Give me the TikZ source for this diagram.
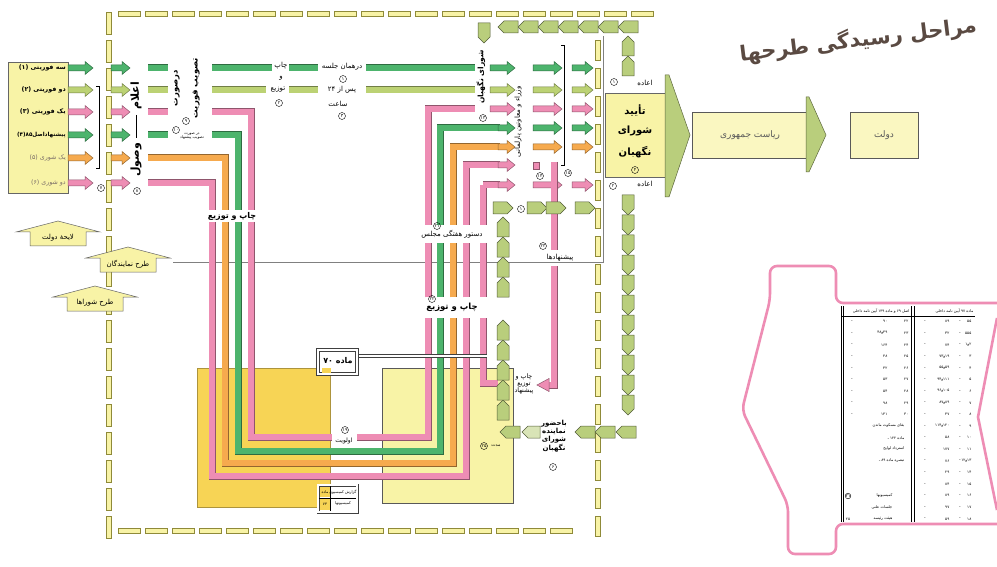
\documentclass[tikz,border=0pt]{standalone}
\usepackage{fontspec}
\setmainfont{DejaVu Sans}
\newfontfamily\fa[Script=Arabic]{DejaVu Sans}
\TeXXeTstate=1
\newcommand{\rtl}[1]{\beginR #1\endR}
\definecolor{grn}{HTML}{4DB46D}
\definecolor{olv}{HTML}{BCD274}
\definecolor{pnk}{HTML}{EE8DB4}
\definecolor{org}{HTML}{F6AA4E}
\definecolor{yelc}{HTML}{F8F3A6}
\definecolor{gold}{HTML}{F7D455}
\definecolor{chainc}{HTML}{B9CE7C}
\definecolor{brn}{HTML}{5A4A42}
\tikzset{
 bar/.style={line width=7pt, draw=#1!60!black, line cap=butt, line join=miter,
   postaction={draw=#1, line width=5.4pt, line cap=butt, line join=miter}},
 chain/.style={fill=chainc, draw=chainc!45!black, line width=0.5pt},
 dsh/.style={fill=yelc, draw=olive!60!gray, line width=0.5pt},
 cn/.style={circle, draw, inner sep=0pt, minimum size=7pt, font=\fa\fontsize{4.5}{5}\selectfont},
 lbl/.style={font=\fa\fontsize{7}{8}\selectfont, inner sep=1pt},
 blbl/.style={font=\fa\bfseries\fontsize{8}{9.5}\selectfont, inner sep=1pt},
 tiny/.style={font=\fa\fontsize{3.8}{4}\selectfont, inner sep=0.5pt},
 pshape/.style={draw=pnk, line width=2.6pt, rounded corners=7pt},
}
\newcommand{\harr}[4]{\filldraw[draw=#4!60!black, fill=#4, line width=0.5pt] (#1,#3-3) -- (#2-8,#3-3) -- (#2-8,#3-6.5) -- (#2,#3) -- (#2-8,#3+6.5) -- (#2-8,#3+3) -- (#1,#3+3) -- cycle;}
\newcommand{\pdn}[2]{\filldraw[chain] (#1-6,#2-10) -- (#1+6,#2-10) -- (#1+6,#2+4) -- (#1,#2+10) -- (#1-6,#2+4) -- cycle;}
\newcommand{\pup}[2]{\filldraw[chain] (#1-6,#2+10) -- (#1+6,#2+10) -- (#1+6,#2-4) -- (#1,#2-10) -- (#1-6,#2-4) -- cycle;}
\newcommand{\plf}[2]{\filldraw[chain] (#1+10,#2-6) -- (#1+10,#2+6) -- (#1-4,#2+6) -- (#1-10,#2) -- (#1-4,#2-6) -- cycle;}
\newcommand{\prt}[2]{\filldraw[chain] (#1-10,#2-6) -- (#1-10,#2+6) -- (#1+4,#2+6) -- (#1+10,#2) -- (#1+4,#2-6) -- cycle;}
\newcommand{\hs}[3]{\filldraw[fill=yelc, draw=gray!80!black, line width=0.5pt] (#1-28,#2+25) -- (#1+28,#2+25) -- (#1+28,#2+11) -- (#1+42,#2+11) -- (#1,#2) -- (#1-42,#2+11) -- (#1-28,#2+11) -- cycle;
 \node[lbl] at (#1,#2+17) {#3};}
\begin{document}
\begin{tikzpicture}[x=1pt,y=-1pt]
\useasboundingbox (0,0) rectangle (997,567);
\fill[white] (0,0) rectangle (997,567);
% bottom rectangles
\filldraw[fill=gold, draw=gold!70!black, line width=0.4pt] (197,368) rectangle (330,507);
\filldraw[fill=yelc, draw=gray!70!black, line width=0.4pt] (382,368) rectangle (513,503);
% thin frame
\draw[gray, line width=0.5pt] (173,262) -- (603,262) -- (603,36);
% dashed frame
\foreach \x in {118,145,...,640} \filldraw[dsh] (\x,11) rectangle +(22,5);
\foreach \y in {12,40,...,530} \filldraw[dsh] (106,\y) rectangle +(5,22);
\foreach \x in {118,145,...,575} \filldraw[dsh] (\x,528) rectangle +(22,5);
\foreach \y in {40,68,...,520} \filldraw[dsh] (595,\y) rectangle +(5,20);
% left box
\filldraw[fill=yelc, draw=gray!80!black, line width=0.5pt] (8,62) rectangle (68,193);
\node[lbl, anchor=east, font=\fa\bfseries\fontsize{6.3}{7}\selectfont] at (67,68) {\rtl{سه فوریتی (۱)}};
\node[lbl, anchor=east, font=\fa\bfseries\fontsize{6.3}{7}\selectfont] at (67,90) {\rtl{دو فوریتی (۲)}};
\node[lbl, anchor=east, font=\fa\bfseries\fontsize{6.3}{7}\selectfont] at (67,112) {\rtl{یک فوریتی (۳)}};
\node[lbl, anchor=east, font=\fa\bfseries\fontsize{5.6}{7}\selectfont] at (67,135) {\rtl{پیشنهاداصل\beginL۸۵\endL{}(۴)}};
\node[lbl, anchor=east, text=brn!80, font=\fa\fontsize{6.3}{7}\selectfont] at (67,158) {\rtl{یک شوری (۵)}};
\node[lbl, anchor=east, text=brn!80, font=\fa\fontsize{6.3}{7}\selectfont] at (67,183) {\rtl{دو شوری (۶)}};
% first two columns of arrows
\foreach \y/\c in {68/grn,90/olv,112/pnk,135/grn,158/org,183/pnk} {\harr{68}{93}{\y}{\c} \harr{111}{130}{\y}{\c}}
% brackets
\draw[line width=0.7pt] (96,86) -- (99,86) -- (99,168) -- (96,168);
\node[cn] at (101,188) {۷};
\node[font=\fa\bfseries\fontsize{11}{12}\selectfont, rotate=90] at (136,96) {\rtl{اعلام}};
\draw[line width=0.7pt] (136,115) -- (136,138);
\node[font=\fa\bfseries\fontsize{11}{12}\selectfont, rotate=90] at (136,160) {\rtl{وصول}};
\node[cn] at (137,191) {۸};
% third column bars
\draw[bar=grn] (148,68) -- (168,68);
\draw[bar=olv] (148,90) -- (168,90);
\draw[bar=pnk] (148,112) -- (168,112);
\draw[bar=grn] (148,135) -- (168,135);
% vertical labels
\node[font=\fa\bfseries\fontsize{8.5}{9}\selectfont, rotate=90] at (177,88) {\rtl{درصورت}};
\node[font=\fa\bfseries\fontsize{8.5}{9}\selectfont, rotate=90] at (196,88) {\rtl{تصویب فوریت}};
\node[cn] at (186,121) {۹};
\node[cn] at (176,130) {۱۰};
\node[tiny, align=center] at (192,136) {\rtl{در صورت}\\\rtl{تصویب پیشنهاد}};
% row 1 and 2
\draw[bar=grn] (212,68) -- (272,68);
\draw[bar=grn] (289,68) -- (318,68);
\draw[bar=grn] (366,68) -- (475,68);
\draw[bar=olv] (212,90) -- (266,90);
\draw[bar=olv] (289,90) -- (318,90);
\draw[bar=olv] (366,90) -- (475,90);
\node[lbl] at (281,66) {\rtl{چاپ}};
\node[lbl] at (281,78) {\rtl{و}};
\node[lbl] at (278,90) {\rtl{توزیع}};
\node[cn] at (279,103) {۲};
\node[lbl] at (342,67) {\rtl{درهمان جلسه}};
\node[cn] at (343,79) {۱};
\node[lbl] at (342,90) {\rtl{پس از \beginL۲۴\endL{}}};
\node[lbl] at (338,104) {\rtl{ساعت}};
\node[cn] at (342,116) {۳};
% U shaped channels
\draw[bar=pnk] (212,112) -- (251,112) -- (251,210);
\draw[bar=pnk] (251,222) -- (251,437) -- (332,437);
\draw[bar=pnk] (357,437) -- (428,437) -- (428,318);
\draw[bar=pnk] (428,297) -- (428,243);
\draw[bar=pnk] (428,225) -- (428,109) -- (475,109);
\draw[bar=grn] (212,135) -- (238,135) -- (238,210);
\draw[bar=grn] (238,222) -- (238,451) -- (440,451) -- (440,318);
\draw[bar=grn] (440,297) -- (440,243);
\draw[bar=grn] (440,225) -- (440,128) -- (500,128);
\draw[bar=org] (148,158) -- (225,158) -- (225,210);
\draw[bar=org] (225,222) -- (225,463) -- (453,463) -- (453,318);
\draw[bar=org] (453,297) -- (453,243);
\draw[bar=org] (453,225) -- (453,147) -- (500,147);
\draw[bar=pnk] (148,183) -- (212,183) -- (212,210);
\draw[bar=pnk] (212,222) -- (212,476) -- (466,476) -- (466,318);
\draw[bar=pnk] (466,297) -- (466,243);
\draw[bar=pnk] (466,225) -- (466,165) -- (500,165);
\draw[bar=pnk] (483,185) -- (483,225);
\draw[bar=pnk] (483,243) -- (483,297);
\draw[bar=pnk] (483,318) -- (483,383) -- (498,383);
\draw[bar=pnk] (483,185) -- (500,185);
% right arrows
\foreach \y/\c in {68/grn,90/olv,109/pnk} {\harr{490}{515}{\y}{\c}}
\foreach \y/\c in {128/grn,147/org,165/pnk,185/pnk} {\harr{498}{515}{\y}{\c}}
\foreach \y/\c in {68/grn,90/olv,109/pnk,128/grn,147/org,185/pnk} {\harr{533}{562}{\y}{\c} \harr{572}{593}{\y}{\c}}
\filldraw[fill=pnk, draw=pnk!60!black, line width=0.4pt] (533,162) rectangle (539,169);
% pink vertical to suggestions
\draw[bar=pnk] (554,162) -- (554,250);
\draw[bar=pnk] (554,266) -- (554,385) -- (548,385);
\filldraw[fill=pnk, draw=pnk!60!black, line width=0.5pt] (549,378.5) -- (537,385) -- (549,391.5) -- cycle;
% vertical labels right
\node[font=\fa\bfseries\fontsize{7.5}{8}\selectfont, rotate=90] at (481,77) {\rtl{شورای نگهبان}};
\node[cn] at (483,118) {۱۳};
\node[font=\fa\fontsize{7}{8}\selectfont, rotate=90] at (518,122) {\rtl{وزراء و معاونین پارلمانی}};
\draw[line width=0.7pt] (561,45) -- (564,45) -- (564,165) -- (561,165);
\node[cn] at (568,173) {۱۵};
\node[cn] at (540,176) {۱۴};
% labels on channels
\node[blbl] at (232,216) {\rtl{چاپ و توزیع}};
\node[lbl] at (452,234) {\rtl{دستور هفتگی مجلس}};
\node[cn] at (437,226) {۲۱};
\node[blbl, font=\fa\bfseries\fontsize{8.5}{9}\selectfont] at (452,307) {\rtl{چاپ و توزیع}};
\node[cn] at (432,299) {۲۲};
\node[lbl] at (560,258) {\rtl{پیشنهادها}};
\node[cn] at (543,246) {۲۳};
\node[lbl, align=center, font=\fa\fontsize{6.3}{7.2}\selectfont] at (524,384) {\rtl{چاپ و}\\\rtl{توزیع}\\\rtl{پیشنهاد}};
% return chains
\pup{628}{66} \pup{628}{46} \plf{628}{27}
\foreach \x in {608,588,568,548,528,508} {\plf{\x}{27}}
\pdn{484}{33}
\foreach \y in {205,225,...,405} {\pdn{628}{\y}}
\plf{626}{432} \plf{605}{432} \plf{585}{432}
\filldraw[fill=chainc!55!white, draw=chainc!45!black, line width=0.5pt] (540,426) -- (540,438) -- (528,438) -- (522,432) -- (528,426) -- cycle;
\plf{510}{432}
\foreach \y in {410,390,...,330} {\pup{503}{\y}}
\foreach \y in {287,267,247,227} {\pup{503}{\y}}
\prt{503}{208} \prt{537}{208} \prt{556}{208} \prt{585}{208}
\node[cn] at (521,209) {۱};
\node[lbl, align=center, font=\fa\bfseries\fontsize{7}{8.2}\selectfont] at (554,436) {\rtl{باحضور}\\\rtl{نماینده}\\\rtl{شورای}\\\rtl{نگهبان}};
\node[cn] at (553,467) {۶};
% bottom boxes
\fill[white] (318,350) rectangle (357,374);
\draw[double=white, double distance=2.2pt, line width=0.5pt, draw=black!75] (357,356) -- (487,356);
\draw[double=white, double distance=2.2pt, line width=0.5pt, draw=black!75] (318,350) rectangle (357,374);
\fill[gold] (322,368) rectangle (331,373);
\node[blbl] at (338,361) {\rtl{ماده \beginL۷۰\endL{}}};
\node[lbl, font=\fa\fontsize{6}{7}\selectfont] at (344,441) {\rtl{اولویت}};
\node[cn] at (345,430) {۱۹};
\node[tiny, font=\fa\fontsize{4.5}{5}\selectfont] at (496,446) {\rtl{مدت}};
\node[cn] at (484,446) {۲۵};
\fill[white] (318,485) rectangle (357,512);
\draw[double=white, double distance=2pt, line width=0.5pt, draw=black!75] (318,485) rectangle (357,512);
\fill[gold] (320,487) rectangle (330,497);
\fill[gold] (320,499) rectangle (330,510);
\draw[line width=0.4pt] (330,486) -- (330,511) (319,498) -- (356,498);
\node[tiny] at (325,492) {\rtl{ماده}};
\node[tiny] at (325,504) {۷۴};
\node[tiny] at (343,492) {\rtl{گزارش کمیسیون}};
\node[tiny] at (343,504) {\rtl{کمیسیونها}};
% house labels
\hs{58}{221}{\rtl{لایحهٔ دولت}}
\hs{128}{247}{\rtl{طرح نمایندگان}}
\hs{95}{286}{\rtl{طرح شوراها}}
% approval and beyond
\node[lbl] at (645,83) {\rtl{اعاده}};
\node[cn] at (614,82) {۱};
\filldraw[fill=yelc, draw=gray!80!black, line width=0.5pt] (605,93) rectangle (665,177);
\node[font=\fa\bfseries\fontsize{10}{11}\selectfont] at (635,110) {\rtl{تأیید}};
\node[font=\fa\bfseries\fontsize{10}{11}\selectfont] at (635,131) {\rtl{شورای}};
\node[font=\fa\bfseries\fontsize{10}{11}\selectfont] at (635,152) {\rtl{نگهبان}};
\node[cn] at (635,170) {۴};
\node[lbl] at (645,184) {\rtl{اعاده}};
\node[cn] at (613,186) {۲};
\filldraw[fill=chainc, draw=chainc!50!black, line width=0.5pt] (665,75) -- (669,75) -- (690,135) -- (669,197) -- (665,197) -- cycle;
\filldraw[fill=yelc!70!white, draw=gray!70!black, line width=0.5pt] (692,112) rectangle (808,158);
\node[font=\fa\fontsize{9}{10}\selectfont, text=gray!70!black] at (750,135) {\rtl{ریاست جمهوری}};
\filldraw[fill=chainc, draw=chainc!50!black, line width=0.5pt] (806,97) -- (809,97) -- (826,135) -- (809,172) -- (806,172) -- cycle;
\filldraw[fill=yelc!70!white, draw=gray!70!black, line width=0.5pt] (850,112) rectangle (918,158);
\node[font=\fa\fontsize{9}{10}\selectfont, text=gray!70!black] at (884,135) {\rtl{دولت}};
% calligraphy
\node[font=\fa\bfseries\fontsize{21}{23}\selectfont, text=brn, rotate=7] at (858,40) {\rtl{مراحل رسیدگی طرحها}};
% pink frame and table
\draw[pshape] (997,303) -- (836,303) -- (836,266) -- (770,266) -- (770,300) -- (742,410) -- (788,505) -- (788,554) -- (836,554) -- (836,524) -- (997,524);
\draw[pnk, line width=2.6pt] (997,318) -- (978,417) -- (997,510);
\draw[line width=0.4pt] (841,306) -- (841,522) (843,306) -- (843,522) (911,306) -- (911,522) (914,306) -- (914,522) (841,316) -- (975,316);
\node[tiny, anchor=east] at (974,311) {\rtl{ماده \beginL۹۷\endL{} آیین نامه داخلی}};
\node[tiny, anchor=east] at (910,311) {\rtl{اصل \beginL۶۹\endL{} و ماده \beginL۱۳۹\endL{} آیین نامه داخلی}};
\foreach \r/\a [count=\i] in {۵۵/۸۹,۵۵۵/۳۲,۲و۱/۷۴,۳/۱۹و۷۳,۴/۵۹و۵۵,۵/۱۱۱و۹۴,۶/۱۰۵و۹۶,۷/۸۹و۸۷,۸/۴۷,۹/۱۲۰و۱۱۴,۱۰/۵۸,۱۱/۱۷۷,۱۳و۱۲/۷۶,۱۴/۲۹,۱۵/۸۴,۱۶/۸۹,۱۷/۹۷,۱۸/۵۹} {
  \node[tiny, anchor=east] at (972,310+\i*11.6) {\r};
  \node[tiny] at (960,310+\i*11.6) {ـ};
  \node[tiny, anchor=east] at (950,310+\i*11.6) {\a};
  \node[tiny] at (925,310+\i*11.6) {ـ};
}
\foreach \r/\a [count=\i] in {۲۲/۹۰,۲۳/۴۹و۴۸,۲۴/۱۶۴,۲۵/۴۸,۲۶/۴۲,۲۷/۵۳,۲۸/۵۴,۲۹/۹۸,۳۰/۱۴۱} {
  \node[tiny, anchor=east] at (909,310+\i*11.6) {\r};
  \node[tiny, anchor=east] at (888,310+\i*11.6) {\a};
  \node[tiny] at (852,310+\i*11.6) {ـ};
}
\node[tiny, anchor=east] at (905,426) {\rtl{بقای مسکوت ماندن}};
\node[tiny, anchor=east] at (905,438) {\rtl{ماده \beginL۱۲۲\endL{} ـ}};
\node[tiny, anchor=east] at (905,449) {\rtl{استرداد لوایح}};
\node[tiny, anchor=east] at (905,461) {\rtl{تبصره ماده \beginL۸۹\endL{} ـ}};
\node[tiny, anchor=east] at (893,496) {\rtl{کمیسیونها}};
\node[tiny, anchor=east] at (893,507) {\rtl{جلسات علنی}};
\node[tiny, anchor=east] at (893,519) {\rtl{هیئت رئیسه}};
\node[cn, minimum size=5pt] at (848,496) {۲۱};
\node[tiny] at (848,519) {۲۵};
\end{tikzpicture}
\end{document}
